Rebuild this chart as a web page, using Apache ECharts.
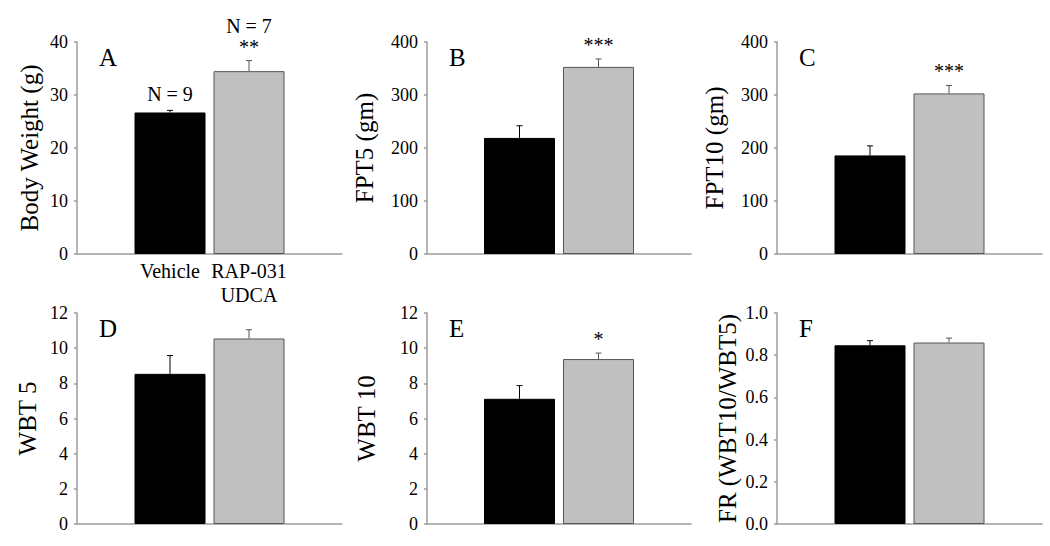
<!DOCTYPE html>
<html>
<head>
<meta charset="utf-8">
<script src="https://cdn.jsdelivr.net/npm/echarts@6/dist/echarts.min.js"></script>
<style>
  html, body { margin: 0; padding: 0; background: #fff; }
  #chart { width: 1050px; height: 546px; }
</style>
</head>
<body>
<div id="chart"></div>
<script>
// ---------------- DATA ----------------
const categories = ['Vehicle', 'RAP-031\nUDCA'];
const panelLetters = ['A', 'B', 'C', 'D', 'E', 'F'];
const yTitles = ['Body Weight (g)', 'FPT5 (gm)', 'FPT10 (gm)', 'WBT 5', 'WBT 10', 'FR (WBT10/WBT5)'];
const yMax = [40, 400, 400, 12, 12, 1.0];
const yStep = [10, 100, 100, 2, 2, 0.2];
const vehicleMean = [26.7, 219, 186, 8.54, 7.12, 0.847];
const vehicleSem  = [0.4, 23, 18, 1.04, 0.75, 0.022];
const rapMean     = [34.5, 353, 303, 10.55, 9.38, 0.860];
const rapSem      = [2.0, 15, 15, 0.5, 0.34, 0.021];
const sigMarks    = ['**', '***', '***', '', '*', ''];
const vehicleN    = ['N = 9', '', '', '', '', ''];
const rapN        = ['N = 7', '', '', '', '', ''];
const decimals    = [0, 0, 0, 0, 0, 1];

// ---------------- LAYOUT ----------------
const FONT = 'Liberation Serif';
const AXIS_COLOR = '#9c9c9c';
const BAR_W = 71;
const GAP_PX = 8;
const grids = [
  { left: 77,  top: 42,  width: 265, height: 212 },
  { left: 427, top: 42,  width: 264, height: 212 },
  { left: 777, top: 42,  width: 265, height: 212 },
  { left: 77,  top: 313, width: 265, height: 211 },
  { left: 427, top: 313, width: 264, height: 211 },
  { left: 777, top: 313, width: 265, height: 211 }
];
const nameGaps = [35, 50, 50, 37, 48, 37];

const option = {
  animation: false,
  backgroundColor: '#fff',
  textStyle: { fontFamily: FONT },
  grid: grids.map(g => Object.assign({ containLabel: false }, g)),
  title: grids.map((g, i) => ({
    text: panelLetters[i],
    left: g.left + 22,
    top: g.top + 3,
    padding: 0,
    textStyle: { fontFamily: FONT, fontSize: 25, fontWeight: 'normal', color: '#000' }
  })),
  xAxis: grids.map((g, i) => ({
    type: 'category',
    gridIndex: i,
    data: ['group'],
    axisLine: { show: true, lineStyle: { color: AXIS_COLOR, width: 1.5 } },
    axisTick: { show: false },
    axisLabel: { show: false },
    splitLine: { show: false }
  })),
  yAxis: grids.map((g, i) => ({
    type: 'value',
    gridIndex: i,
    min: 0,
    max: yMax[i],
    interval: yStep[i],
    name: yTitles[i],
    nameLocation: 'middle',
    nameGap: nameGaps[i],
    nameTextStyle: { fontFamily: FONT, fontSize: 25, color: '#000' },
    axisLine: { show: true, lineStyle: { color: AXIS_COLOR, width: 1.5 } },
    axisTick: { show: true, length: 3, lineStyle: { color: AXIS_COLOR, width: 1.5 } },
    axisLabel: {
      fontFamily: FONT, fontSize: 18, color: '#000', margin: 9,
      formatter: v => v.toFixed(decimals[i])
    },
    splitLine: { show: false }
  })),
  series: []
};

grids.forEach((g, i) => {
  const showCats = i === 0;
  option.series.push({
    type: 'bar',
    name: 'Vehicle',
    xAxisIndex: i, yAxisIndex: i,
    data: [vehicleMean[i]],
    barWidth: BAR_W,
    barGap: (GAP_PX / BAR_W * 100) + '%',
    itemStyle: { color: '#000', borderColor: '#000', borderWidth: 1 },
    label: {
      show: showCats, position: 'bottom', distance: 5,
      formatter: () => categories[0],
      fontFamily: FONT, fontSize: 20, color: '#000', lineHeight: 24
    }
  });
  option.series.push({
    type: 'bar',
    name: 'RAP-031 UDCA',
    xAxisIndex: i, yAxisIndex: i,
    data: [rapMean[i]],
    barWidth: BAR_W,
    barGap: (GAP_PX / BAR_W * 100) + '%',
    itemStyle: { color: '#c0c0c0', borderColor: '#555', borderWidth: 1 },
    label: {
      show: showCats, position: 'bottom', distance: 5,
      formatter: () => categories[1],
      fontFamily: FONT, fontSize: 20, color: '#000', lineHeight: 24, align: 'center'
    }
  });
  option.series.push({
    type: 'custom',
    xAxisIndex: i, yAxisIndex: i,
    clip: false,
    data: [[0, vehicleMean[i], vehicleMean[i] + vehicleSem[i]],
           [0, rapMean[i], rapMean[i] + rapSem[i]]],
    renderItem: (params, api) => {
      const side = params.dataIndex === 0 ? -1 : 1;
      const off = side * (BAR_W + GAP_PX) / 2;
      const base = api.coord([0, api.value(1)]);
      const top = api.coord([0, api.value(2)]);
      const x = base[0] + off;
      const color = params.dataIndex === 0 ? '#000' : '#555';
      const children = [
        { type: 'line', shape: { x1: x, y1: base[1], x2: x, y2: top[1] },
          style: { stroke: color, lineWidth: 1 } },
        { type: 'line', shape: { x1: x - 3, y1: top[1], x2: x + 3, y2: top[1] },
          style: { stroke: color, lineWidth: 1 } }
      ];
      const sig = params.dataIndex === 1 ? sigMarks[i] : '';
      const nTxt = params.dataIndex === 0 ? vehicleN[i] : rapN[i];
      if (sig) {
        children.push({ type: 'text', x: x, y: top[1] - 4,
          style: { text: sig, fontFamily: FONT, fontSize: 20, fill: '#000',
                   align: 'center', verticalAlign: 'bottom' } });
      }
      if (nTxt) {
        children.push({ type: 'text', x: x, y: top[1] - (sig ? 25 : 6),
          style: { text: nTxt, fontFamily: FONT, fontSize: 20, fill: '#000',
                   align: 'center', verticalAlign: 'bottom' } });
      }
      return { type: 'group', children: children };
    }
  });
});

const chart = echarts.init(document.getElementById('chart'), null, { renderer: 'svg' });
chart.setOption(option);
</script>
</body>
</html>
